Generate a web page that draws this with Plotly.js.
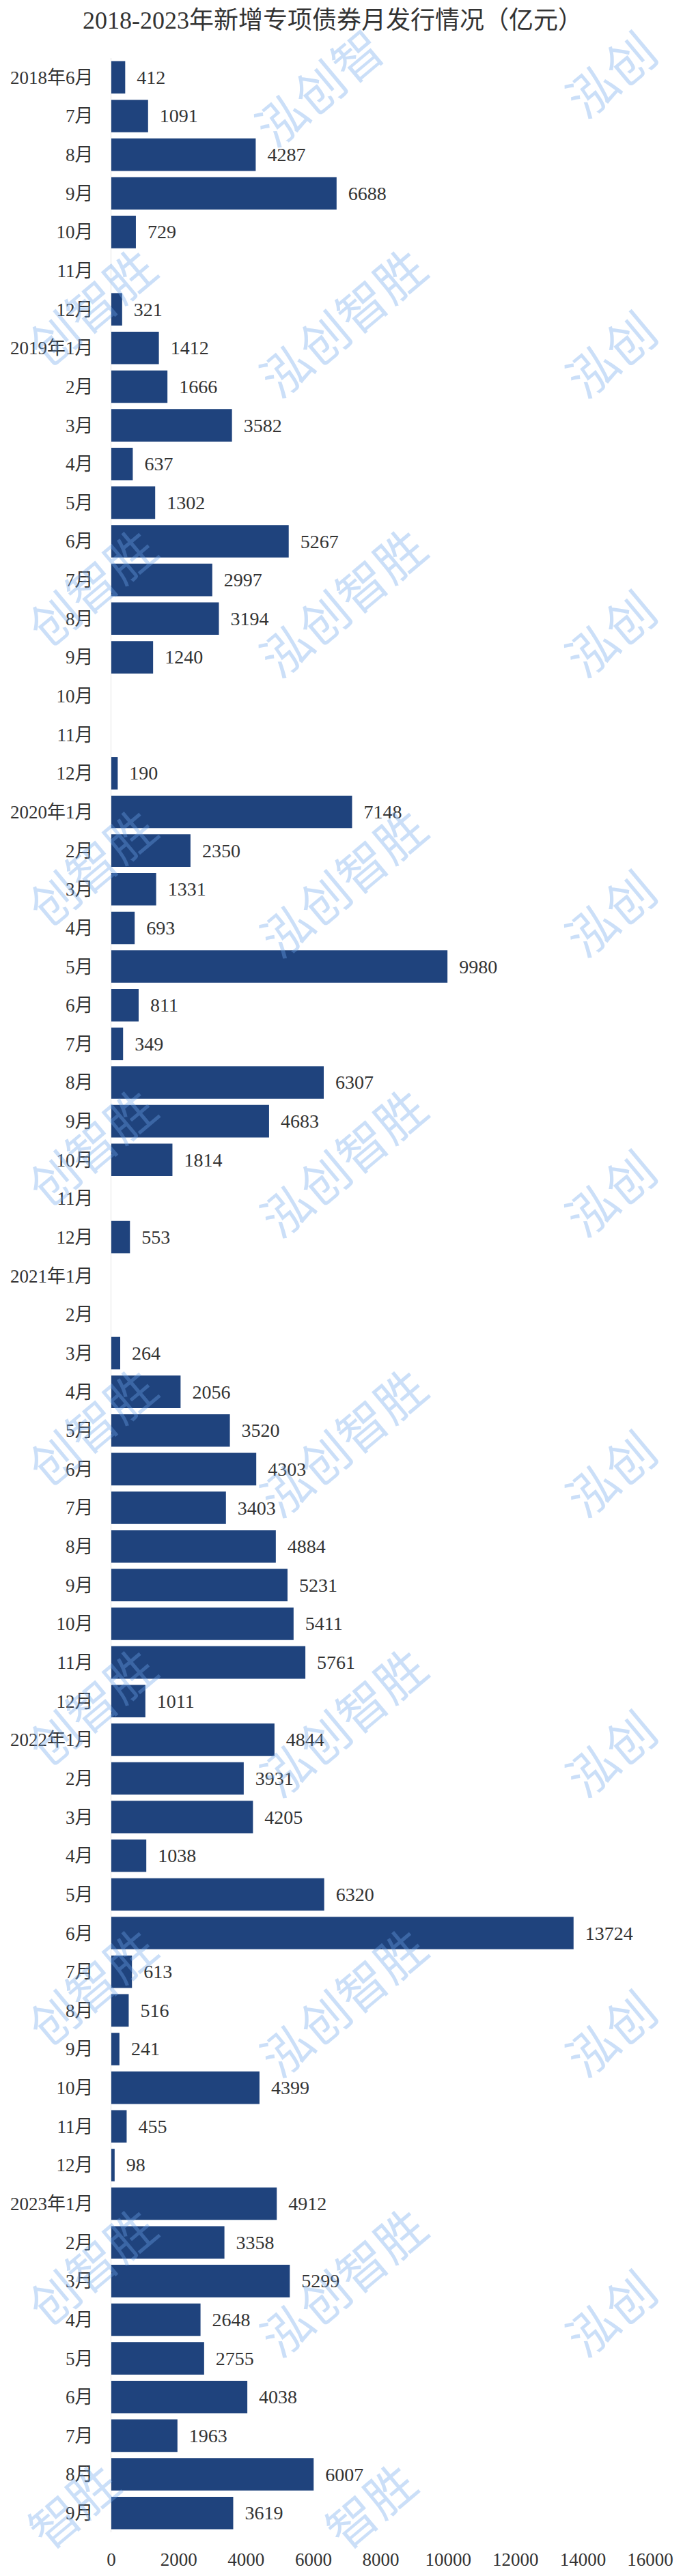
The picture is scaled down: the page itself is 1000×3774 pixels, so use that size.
<!DOCTYPE html>
<html>
<head>
<meta charset="utf-8">
<script src="https://cdn.plot.ly/plotly-3.0.1.min.js"></script>
<style>html,body{margin:0;padding:0;background:#ffffff;}</style>
</head>
<body>
<div id="chart" style="width:1000px;height:3774px;"></div>
<script>
// ---- data ----
const monthLabels = [
  "2018年6月","7月","8月","9月","10月","11月","12月",
  "2019年1月","2月","3月","4月","5月","6月","7月","8月","9月","10月","11月","12月",
  "2020年1月","2月","3月","4月","5月","6月","7月","8月","9月","10月","11月","12月",
  "2021年1月","2月","3月","4月","5月","6月","7月","8月","9月","10月","11月","12月",
  "2022年1月","2月","3月","4月","5月","6月","7月","8月","9月","10月","11月","12月",
  "2023年1月","2月","3月","4月","5月","6月","7月","8月","9月"
];
const issuance = [
  412,1091,4287,6688,729,null,321,
  1412,1666,3582,637,1302,5267,2997,3194,1240,null,null,190,
  7148,2350,1331,693,9980,811,349,6307,4683,1814,null,553,
  null,null,264,2056,3520,4303,3403,4884,5231,5411,5761,1011,
  4844,3931,4205,1038,6320,13724,613,516,241,4399,455,98,
  4912,3358,5299,2648,2755,4038,1963,6007,3619
];
const xTickVals = [0,2000,4000,6000,8000,10000,12000,14000,16000];
const chartTitle = "2018-2023年新增专项债券月发行情况（亿元）";
const watermarkText = "泓创智胜";

// ---- build ----
const rowIdx = monthLabels.map((_, i) => i);
const FONT = "'Liberation Serif', 'Noto Sans CJK SC', serif";

const trace = {
  type: 'bar',
  orientation: 'h',
  x: issuance,
  y: rowIdx,
  marker: { color: '#1f437d', line: { width: 0 } },
  text: issuance.map(v => v == null ? '' : '\u00a0\u00a0' + v),
  textposition: 'outside',
  constraintext: 'none',
  cliponaxis: false,
  textfont: { family: FONT, size: 28, color: '#333333' },
  hoverinfo: 'skip'
};

// plot area in pixels (for watermark placement)
const W = 1000, H = 3774;
const mL = 163, mR = 48, mT = 85, mB = 64;
const pw = W - mL - mR, ph = H - mT - mB;

// watermark pieces: [text, centre x px, centre y px]
const wm = [];
for (let k = 0; k < 10; k++) {
  const py = 60 + 410 * k;
  // middle column
  if (k === 0) wm.push([watermarkText.slice(0, 3), 465, 125]);
  else if (k === 9) wm.push([watermarkText.slice(2), 540, 3668]);
  else wm.push([watermarkText, 500, py]);
  // left column (only the end of the mark is visible)
  if (k === 9) wm.push([watermarkText.slice(2), 105, 3668]);
  else if (k > 0) wm.push([watermarkText.slice(1), 132, py - 23]);
  // right column (only the start of the mark is visible)
  if (k < 9) wm.push([watermarkText.slice(0, 2), 892, py + 46]);
}
const annotations = wm.map(([t, px, py]) => ({
  xref: 'paper', yref: 'paper',
  x: (px - mL) / pw, y: (H - mB - py) / ph,
  xanchor: 'center', yanchor: 'middle',
  text: t, showarrow: false,
  textangle: -40,
  font: { family: "'Noto Sans CJK SC', sans-serif", size: 72, color: 'rgba(110,165,235,0.36)' }
}));

const layout = {
  width: W, height: H,
  margin: { l: mL, r: mR, t: mT, b: mB },
  paper_bgcolor: '#ffffff',
  plot_bgcolor: '#ffffff',
  showlegend: false,
  bargap: 0.16,
  title: {
    text: chartTitle,
    font: { family: FONT, size: 36, color: '#333333' },
    xref: 'container', x: 0.487, xanchor: 'center',
    yref: 'container', y: 1 - 29 / H, yanchor: 'middle'
  },
  xaxis: {
    range: [0, 16000],
    tickvals: xTickVals,
    ticktext: xTickVals.map(String),
    showgrid: false, zeroline: false, showline: false,
    ticks: 'outside', ticklen: 16, tickcolor: 'rgba(0,0,0,0)',
    tickfont: { family: FONT, size: 27, color: '#333333' },
    fixedrange: true
  },
  yaxis: {
    range: [monthLabels.length - 0.5, -0.5],
    tickvals: rowIdx,
    ticktext: monthLabels,
    showgrid: false, zeroline: false,
    showline: true, linecolor: '#e3e3e3', linewidth: 1,
    ticks: 'outside', ticklen: 20, tickcolor: 'rgba(0,0,0,0)',
    tickfont: { family: FONT, size: 27, color: '#333333' },
    fixedrange: true
  },
  annotations: annotations
};

Plotly.newPlot('chart', [trace], layout, { displayModeBar: false, staticPlot: true });
</script>
</body>
</html>
